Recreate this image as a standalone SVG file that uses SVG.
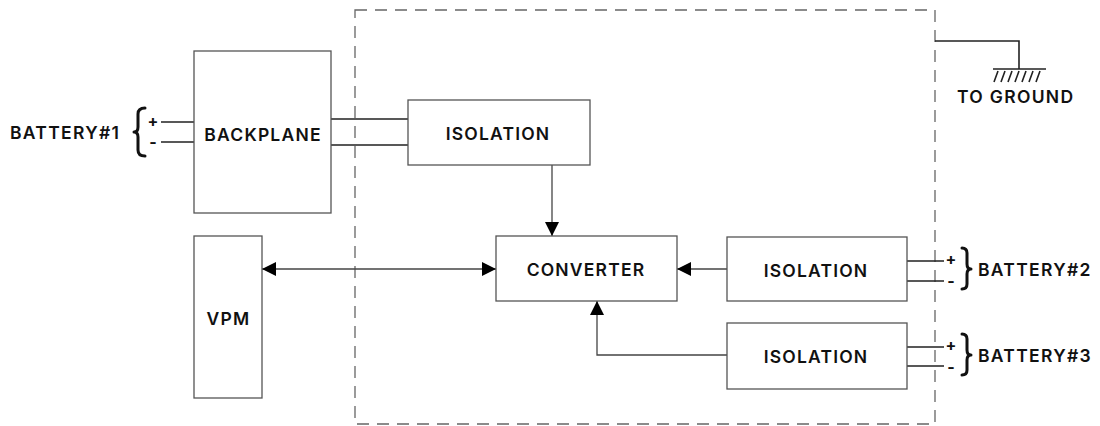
<svg xmlns="http://www.w3.org/2000/svg" width="1100" height="426" viewBox="0 0 1100 426">
  <style>
    .box { fill: #fff; stroke: #555; stroke-width: 1.3; }
    .lbl { font-family: Inter, "Open Sans", "Liberation Sans", sans-serif; font-weight: 600; font-size: 17.5px; letter-spacing: 1.2px; fill: #111; text-anchor: middle; dominant-baseline: central; }
    .side { font-family: Inter, "Open Sans", "Liberation Sans", sans-serif; font-weight: 600; font-size: 17.5px; letter-spacing: 1.3px; fill: #111; }
    .sign { font-family: Inter, "Open Sans", "Liberation Sans", sans-serif; font-weight: 700; font-size: 16px; fill: #111; text-anchor: middle; dominant-baseline: central; }
    .wire { fill: none; stroke: #222; stroke-width: 1.6; }
    .conn { fill: none; stroke: #444; stroke-width: 1.3; }
    .brace { fill: none; stroke: #111; stroke-width: 3; stroke-linecap: round; stroke-linejoin: round; }
  </style>
  <defs>
    <marker id="arrow" viewBox="0 0 10 10" refX="10" refY="5" markerWidth="14" markerHeight="14" markerUnits="userSpaceOnUse" orient="auto-start-reverse">
      <path d="M0,0 L10,5 L0,10 z" fill="#000"/>
    </marker>
  </defs>

  <!-- enclosure boundary -->
  <rect x="355" y="10" width="580" height="414" fill="none" stroke="#666" stroke-width="1.3" stroke-dasharray="12,8"/>

  <!-- ground connection -->
  <g id="ground">
    <path class="wire" d="M935,41 H1019 V69"/>
    <path class="wire" d="M993,69 H1046"/>
    <path class="wire" d="M998,71 l-4,11 M1005,71 l-4,11 M1012,71 l-4,11 M1019,71 l-4,11 M1026,71 l-4,11 M1033,71 l-4,11 M1040,71 l-4,11"/>
    <text class="side" x="957" y="103">TO GROUND</text>
  </g>

  <!-- battery inputs -->
  <g id="battery1">
    <path class="wire" d="M161,122 H194 M161,142 H194"/>
    <text class="sign" x="153" y="121">+</text>
    <text class="sign" x="153" y="142">-</text>
    <path class="brace" d="M145,108 Q138,108 138,114 V127 Q138,132 134,132 Q138,132 138,137 V150 Q138,156 145,156"/>
    <text class="side" x="10" y="139">BATTERY#1</text>
  </g>
  <g id="battery2">
    <path class="wire" d="M907,261 H944 M907,281 H944"/>
    <text class="sign" x="951" y="259">+</text>
    <text class="sign" x="951" y="281">-</text>
    <path class="brace" d="M962,248 Q967,248 967,253 V264 Q967,269 971,269 Q967,269 967,274 V284 Q967,289 962,289"/>
    <text class="side" x="978" y="276">BATTERY#2</text>
  </g>
  <g id="battery3">
    <path class="wire" d="M907,347 H944 M907,366 H944"/>
    <text class="sign" x="951" y="345">+</text>
    <text class="sign" x="951" y="367">-</text>
    <path class="brace" d="M962,334 Q967,334 967,339 V350 Q967,355 971,355 Q967,355 967,360 V370 Q967,375 962,375"/>
    <text class="side" x="978" y="362">BATTERY#3</text>
  </g>

  <!-- connectors -->
  <g id="connectors">
    <path class="wire" d="M331,119 H408 M331,145 H408"/>
    <path class="conn" d="M552,165 V236" marker-end="url(#arrow)"/>
    <path class="conn" d="M262,269 H496" marker-start="url(#arrow)" marker-end="url(#arrow)"/>
    <path class="conn" d="M727,269 H677" marker-end="url(#arrow)"/>
    <path class="conn" d="M727,355 H597 V301" marker-end="url(#arrow)"/>
  </g>

  <!-- blocks -->
  <g id="backplane">
    <rect class="box" x="194" y="51" width="137" height="162"/>
    <text class="lbl" x="263" y="134">BACKPLANE</text>
  </g>
  <g id="isolation1">
    <rect class="box" x="408" y="100" width="182" height="65"/>
    <text class="lbl" x="498" y="133.5">ISOLATION</text>
  </g>
  <g id="vpm">
    <rect class="box" x="194" y="236" width="68" height="162"/>
    <text class="lbl" x="228.5" y="318">VPM</text>
  </g>
  <g id="converter">
    <rect class="box" x="496" y="236" width="181" height="65"/>
    <text class="lbl" x="586" y="269">CONVERTER</text>
  </g>
  <g id="isolation2">
    <rect class="box" x="727" y="237" width="180" height="64"/>
    <text class="lbl" x="816" y="270">ISOLATION</text>
  </g>
  <g id="isolation3">
    <rect class="box" x="727" y="323" width="180" height="66"/>
    <text class="lbl" x="816" y="356">ISOLATION</text>
  </g>
</svg>
